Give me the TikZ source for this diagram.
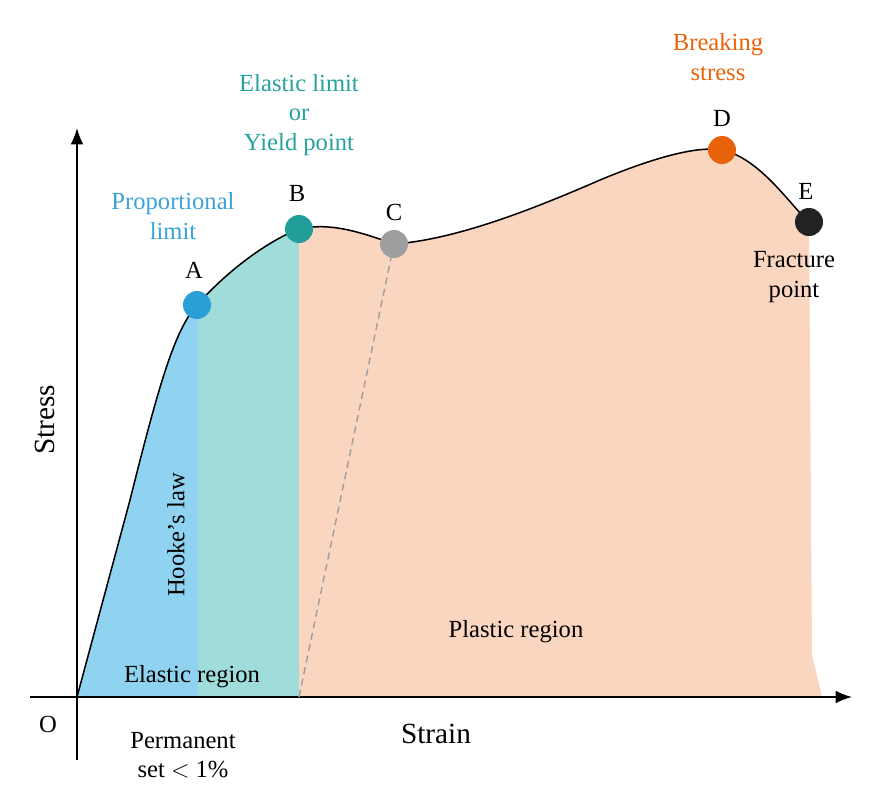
\documentclass[tikz,border=0pt]{standalone}
\usepackage{fontspec}
\usetikzlibrary{arrows.meta}
\setmainfont{Liberation Serif}
\definecolor{cblue}{HTML}{8FD3F0}
\definecolor{cteal}{HTML}{A0DCDA}
\definecolor{cpeach}{HTML}{FAD5BF}
\definecolor{pA}{HTML}{2A9FD6}
\definecolor{pB}{HTML}{219E9A}
\definecolor{pC}{HTML}{9E9E9E}
\definecolor{pD}{HTML}{E8620A}
\definecolor{pE}{HTML}{222222}
\definecolor{tblue}{HTML}{3BA3D5}
\definecolor{tteal}{HTML}{26A29E}
\begin{document}
\begin{tikzpicture}[x=0.03cm,y=-0.03cm,
  lbl/.style={font=\fontsize{21}{25}\selectfont,align=center,inner sep=0},
  pt/.style={circle,fill=#1,minimum size=28*0.03cm,inner sep=0}]
\useasboundingbox (0,0) rectangle (889,803);
\def\curve{(77,697) -- (130,500) .. controls (160,380) and (175,330) .. (197,305) .. controls (230,268) and (270,240) .. (299,229) .. controls (330,222) and (360,232) .. (394,244) .. controls (450,240) and (520,215) .. (600,180) .. controls (660,155) and (700,146) .. (722,150) .. controls (760,158) and (790,205) .. (809,222) -- (812,655) -- (822,697) -- cycle}
\begin{scope}
\clip \curve;
\fill[cblue] (70,100) rectangle (198,700);
\fill[cteal] (198,100) rectangle (299,700);
\fill[cpeach] (299,100) rectangle (830,700);
\end{scope}
\draw[line width=1.3pt] (77,697) -- (130,500) .. controls (160,380) and (175,330) .. (197,305) .. controls (230,268) and (270,240) .. (299,229) .. controls (330,222) and (360,232) .. (394,244) .. controls (450,240) and (520,215) .. (600,180) .. controls (660,155) and (700,146) .. (722,150) .. controls (760,158) and (790,205) .. (809,222);
\coordinate (O) at (77,697);
\coordinate (yb) at (77,760);
\coordinate (yt) at (77,128);
\coordinate (xl) at (30,697);
\coordinate (xr) at (852,697);
\draw[line width=1.5pt,-{Latex[length=14pt,width=11pt]}] (yb) -- (yt);
\draw[line width=1.5pt,-{Latex[length=14pt,width=11pt]}] (xl) -- (xr);
\node[pt=pA] (A) at (197,305) {};
\node[pt=pB] (B) at (299,229) {};
\node[pt=pC] (C) at (394,244) {};
\node[pt=pD] (D) at (722,150) {};
\node[pt=pE] (E) at (809,222) {};
\coordinate (d0) at (299,697);
\draw[dashed,pC,line width=1.2pt,dash pattern=on 6pt off 4pt] (d0) -- (C);
\node[lbl] (la) at (194,270) {A};
\node[lbl] (lb) at (297,193) {B};
\node[lbl] (lc) at (394,212) {C};
\node[lbl] (ld) at (722,118) {D};
\node[lbl] (le) at (806,191) {E};
\node[lbl,text=tblue] (tp) at (173,216) {Proportional\\limit};
\node[lbl,text=tteal] (ty) at (299,115) {Elastic limit\\or\\Yield point};
\node[lbl,text=pD] (tb) at (718,57) {Breaking\\stress};
\node[lbl] (tf) at (794,277) {Fracture\\point};
\node[lbl] (th) at (176,535) [rotate=90] {Hooke’s law};
\node[lbl] (te) at (192,677) {Elastic region};
\node[lbl] (tpl) at (516,632) {Plastic region};
\node[lbl] (to) at (48,724) {O};
\node[lbl] (tpe) at (183,755) {Permanent\\set $<$ 1\%};
\node[lbl,font=\fontsize{25}{30}\selectfont] (ts) at (436,734) {Strain};
\node[lbl,font=\fontsize{25}{30}\selectfont,rotate=90] (tst) at (45,420) {Stress};
\end{tikzpicture}
\end{document}
